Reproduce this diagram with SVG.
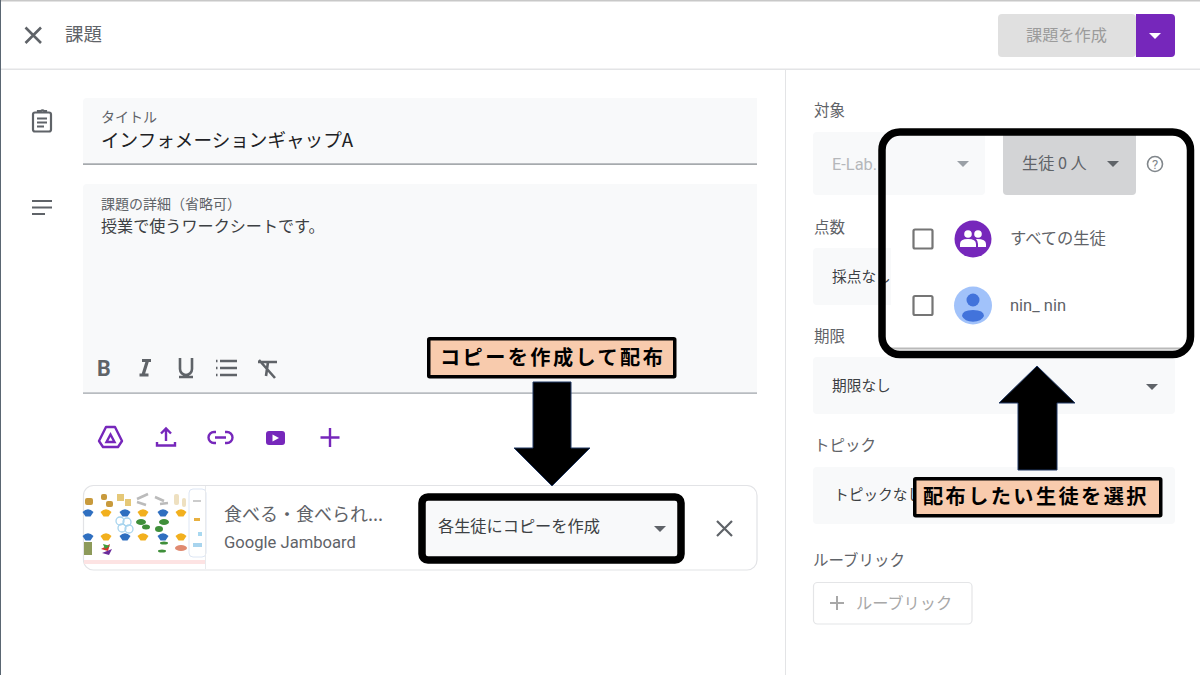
<svg xmlns="http://www.w3.org/2000/svg" xmlns:xlink="http://www.w3.org/1999/xlink" width="1200" height="675" viewBox="0 0 1200 675">
<style>
text{font-family:"Noto Sans CJK JP","Noto Sans",sans-serif;fill:#5f6368}
.lat{font-family:"Roboto","Noto Sans CJK JP",sans-serif}
.field{fill:#f8f9fa}
.h{font-size:15.500px;fill:#5f6368}
.v{font-size:14.700px;fill:#3c4043}
.ic{fill:none;stroke:#5f6368;stroke-width:2.2}
.pu{fill:none;stroke:#7627bb;stroke-width:2.4}
.fmt{fill:none;stroke:#5f6368;stroke-width:2.6}
.tri{fill:#5f6368}
.frame{fill:none;stroke:#000;stroke-width:7.5}
.arrow{fill:#000;stroke:#203864;stroke-width:1}
.lab{fill:#f8cbad;stroke:#000;stroke-width:3.5}
.labt{font-size:20.200px;font-weight:700;fill:#000;letter-spacing:2.400px}
.chk{fill:#fff;stroke:#757575;stroke-width:2.2}
</style>
<defs>
<path id="blue" d="M-5.500 0Q0 -5.500 5.500 0L2.500 4.500H-2.500Z" fill="#2f6fc0"/>
<path id="gold" d="M-5.500 0Q0 -5.500 5.500 0L2.500 4.500H-2.500Z" fill="#f2b01e"/>
</defs>
<rect width="1200" height="675" fill="#fff"/>
<rect width="1200" height="1.500" fill="#c8c8c8"/>
<rect x="0" y="0" width="1" height="675" fill="#5a6672"/>
<rect x="1" y="68.500" width="1199" height="1.500" fill="#e3e4e6"/>
<rect x="785" y="70" width="1" height="605" fill="#e3e4e6"/>

<g id="header">
<path d="M25.500 27.500L41 43M41 27.500L25.500 43" fill="none" stroke="#5f6368" stroke-width="2.600"/>
<text x="65" y="40.500" font-size="18.500">課題</text>
<rect x="998" y="14" width="138" height="43" rx="4" fill="#e0e0e0"/>
<text x="1026" y="40.500" font-size="16.200" style="fill:#9b9b9b">課題を作成</text>
<path d="M1136 14H1171a4 4 0 0 1 4 4V53a4 4 0 0 1 -4 4H1136Z" fill="#7627bb"/>
<path d="M1149 33H1161L1155 39Z" fill="#fff"/>
</g>

<g id="title-field">
<rect x="33" y="112.500" width="18" height="19" rx="2" class="ic"/>
<path d="M37 118.500h10M37 122.500h10M37 126.500h7M38 112.500v-1.500h3a2 2 0 0 1 3 0h2v1.500" class="ic"/>
<path d="M83 164V102a4 4 0 0 1 4-4H757V164Z" class="field"/>
<rect x="83" y="163.500" width="674" height="1.200" fill="#80868b"/>
<text x="101" y="122" font-size="14">タイトル</text>
<text x="101" y="147" font-size="18.600" style="fill:#202124">インフォメーションギャップA</text>
</g>

<g id="detail-field">
<path d="M32 201H52M32 207.500H52M32 214H45" class="ic"/>
<path d="M83 393V188a4 4 0 0 1 4-4H757V393Z" class="field"/>
<rect x="83" y="392.500" width="674" height="1.200" fill="#9aa0a6"/>
<text x="101" y="209" font-size="14">課題の詳細（省略可）</text>
<text x="101" y="232" font-size="16.100" style="fill:#3c4043">授業で使うワークシートです。</text>
<text x="97" y="376" font-size="21.500" font-weight="700" class="lat">B</text>
<path d="M142 360.500H151M139.500 375H148.500M147.500 360.500L143 375" fill="none" stroke="#5f6368" stroke-width="3.200"/>
<path d="M180 358V369a6 6 0 0 0 12 0V358M179 377H193" class="fmt"/>
<path d="M220 361H237M220 368H237M220 375H237" class="fmt"/>
<path d="M216 361h1.500M216 368h1.500M216 375h1.500" class="fmt"/>
<path d="M258 362H277M268 362L266 376M259 360L275 378" class="fmt"/>
</g>

<g id="attach-icons">
<path d="M106 427H115L122 441L118 447H103L99 441Z" class="pu" stroke-linejoin="round"/>
<path d="M110.500 434.500L114.500 442H106.500Z" class="pu"/>
<path d="M166 441V429M161 433.500L166 428.500L171 433.500M157 442V445.500H175V442" class="pu"/>
<path d="M216 432h-2a5.500 5.500 0 0 0 0 11h2M225 432h2a5.500 5.500 0 0 1 0 11h-2M215 437.500H226" class="pu"/>
<rect x="266" y="431" width="19" height="14" rx="3" fill="#7627bb"/>
<path d="M272.500 434.500L279 438L272.500 441.500Z" fill="#fff"/>
<path d="M330 428V447M320.500 437.500H339.500" class="pu"/>
</g>

<g id="file-card">
<rect x="83.500" y="485.500" width="673.500" height="84.500" rx="10" fill="#fff" stroke="#e2e3e6" stroke-width="1.200"/>
<g id="thumbnail">
<rect x="189" y="489" width="17" height="68" rx="4" fill="#fff" stroke="#dde6f4"/>
<rect x="205" y="486" width="1" height="83" fill="#e8eaed"/>
<g fill="#c89a3c"><rect x="85" y="498" width="8" height="7" rx="2"/><rect x="101" y="494" width="6" height="6" rx="2"/><rect x="106" y="501" width="7" height="6" rx="2"/><rect x="117" y="494" width="7" height="7" fill="#e5c878"/><rect x="125" y="499" width="6" height="7" fill="#e5c878"/></g>
<path d="M137 499L148 494M137 502L146 505M155 497L164 501M160 504L168 503" stroke="#bbb" stroke-width="2.500" fill="none"/>
<rect x="174" y="494" width="5" height="11" rx="2" fill="#eee0c0"/><rect x="182" y="498" width="4" height="9" rx="2" fill="#eee0c0"/>
<use xlink:href="#blue" x="88" y="512"/><use xlink:href="#gold" x="106" y="512"/><use xlink:href="#blue" x="125" y="512"/><use xlink:href="#gold" x="143" y="512"/><use xlink:href="#blue" x="163" y="512"/><use xlink:href="#gold" x="181" y="512"/>
<use xlink:href="#blue" x="88" y="536"/><use xlink:href="#gold" x="106" y="536"/><use xlink:href="#blue" x="125" y="536"/><use xlink:href="#gold" x="143" y="536"/><use xlink:href="#blue" x="163" y="536"/><use xlink:href="#gold" x="181" y="536"/>
<g fill="none" stroke="#a8d4ee" stroke-width="1.300"><circle cx="120" cy="521" r="4"/><circle cx="127" cy="522" r="4"/><circle cx="122" cy="528" r="4"/><circle cx="129" cy="529" r="4"/></g>
<g fill="#3f8f3a"><ellipse cx="141" cy="522" rx="5" ry="3"/><ellipse cx="146" cy="527" rx="4" ry="2.500"/><ellipse cx="164" cy="522" rx="5" ry="3"/><ellipse cx="159" cy="529" rx="4" ry="3"/><ellipse cx="164" cy="543" rx="4" ry="1.500"/><ellipse cx="162" cy="551" rx="4" ry="1.500"/></g>
<rect x="84" y="542" width="8" height="13" fill="#8d9a5a"/>
<path d="M101 549L110 544L108 551Z" fill="#d8332a"/><path d="M102 553L112 549L109 555Z" fill="#6a2a9a"/><path d="M103 544L110 546L105 549Z" fill="#3f9f3a"/>
<ellipse cx="181" cy="548" rx="6" ry="3" fill="#e08a70"/>
<rect x="84" y="560" width="121" height="4" fill="#fde3e3"/>
<rect x="193" y="500" width="8" height="2" fill="#ccc"/><rect x="194" y="518" width="6" height="3" fill="#e8b040"/><rect x="198" y="532" width="4" height="4" fill="#a8d8f0"/><rect x="193" y="543" width="9" height="4" fill="#a8d4ee"/>
</g>
<text x="224" y="521" font-size="18">食べる・食べられ...</text>
<text x="224" y="548" font-size="16.600" class="lat">Google Jamboard</text>
<rect x="422" y="497" width="259" height="63" rx="6" class="field"/>
<text x="438" y="532" font-size="16.200" style="fill:#3c4043">各生徒にコピーを作成</text>
<path d="M654 526H666L660 532Z" class="tri"/>
<path d="M717 521L732 536M732 521L717 536" fill="none" stroke="#5f6368" stroke-width="2.200"/>
</g>

<g id="right-panel">
<text x="814" y="115.500" class="h">対象</text>
<rect x="813" y="132" width="172" height="63" rx="4" class="field"/>
<text x="832" y="170" font-size="16.400" class="lat" style="fill:#b5b7ba">E-Lab.</text>
<path d="M957 161H969L963 167Z" fill="#9aa0a6"/>
<path d="M1003 132H1136V191a4 4 0 0 1 -4 4H1007a4 4 0 0 1 -4-4Z" fill="#d3d4d6"/>
<text x="1022" y="169" font-size="16.200">生徒 0 人</text>
<path d="M1107 161H1119L1113 167Z" class="tri"/>
<circle cx="1155" cy="164" r="7.500" fill="none" stroke="#80868b" stroke-width="1.600"/>
<text x="1155" y="168.500" font-size="13" text-anchor="middle" class="lat" style="fill:#80868b">?</text>
<text x="814" y="232.500" class="h">点数</text>
<rect x="813" y="248" width="100" height="57" rx="4" class="field"/>
<text x="832" y="282" class="v">採点なし</text>
<text x="814" y="341.500" class="h">期限</text>
<rect x="813" y="357" width="362" height="57" rx="4" class="field"/>
<text x="832" y="391" class="v">期限なし</text>
<path d="M1146 384H1158L1152 390Z" class="tri"/>
<text x="814" y="450.500" class="h">トピック</text>
<rect x="813" y="467" width="362" height="57" rx="4" class="field"/>
<text x="834" y="500" class="v">トピックなし</text>
<text x="813" y="565.500" class="h">ルーブリック</text>
<rect x="813.500" y="582.500" width="158.500" height="41.500" rx="4" fill="#fff" stroke="#e4e5e7" stroke-width="1.200"/>
<path d="M837 596V610M830 603H844" fill="none" stroke="#a8a8a8" stroke-width="2"/>
<text x="856" y="609" font-size="16.200" style="fill:#a8a8a8">ルーブリック</text>
</g>

<g id="student-dropdown">
<rect x="891" y="196" width="292" height="153" rx="3" fill="#fff"/>
<rect x="891" y="347.500" width="292" height="2" fill="#b9b9b9"/>
<rect x="913.500" y="229.500" width="19" height="19" rx="1.500" class="chk"/>
<circle cx="973" cy="239" r="18.500" fill="#7627bb"/>
<g fill="#fff"><circle cx="968" cy="234" r="3.800"/><circle cx="978" cy="234" r="3.800"/><path d="M960 247v-3q0-5 8-5t8 5v3Z"/><path d="M977 239q9 0 9 5v3h-8v-3q0-3-2-5Z"/></g>
<text x="1010" y="244" font-size="16.300">すべての生徒</text>
<rect x="913.500" y="296" width="19" height="19" rx="1.500" class="chk"/>
<circle cx="973" cy="305.500" r="19" fill="#a1c2fa"/>
<circle cx="973" cy="300" r="6.500" fill="#4273db"/>
<path d="M962 316q0-6 11-6t11 6a11.500 8 0 0 1-22 0Z" fill="#4273db"/>
<text x="1010" y="311" font-size="16.500" class="lat">nin_ nin</text>
</g>

<g id="highlight-student"><rect x="882" y="132" width="308.500" height="222.500" rx="18" class="frame"/></g>
<g id="highlight-copy"><rect x="422" y="497" width="259" height="63" rx="6" class="frame"/></g>

<g id="connectors">
<path d="M533 382H571V448H590L552 486L514 448H533Z" class="arrow"/>
<path d="M1037 366L1075 403H1057V470H1018V403H999Z" class="arrow"/>
</g>

<g id="label-copy">
<rect x="428.750" y="338.750" width="246" height="38" rx="1" class="lab"/>
<text x="440" y="365" class="labt">コピーを作成して配布</text>
</g>
<g id="label-select">
<rect x="914.750" y="478.750" width="246" height="37" rx="1" class="lab"/>
<text x="923" y="504" class="labt">配布したい生徒を選択</text>
</g>
</svg>
